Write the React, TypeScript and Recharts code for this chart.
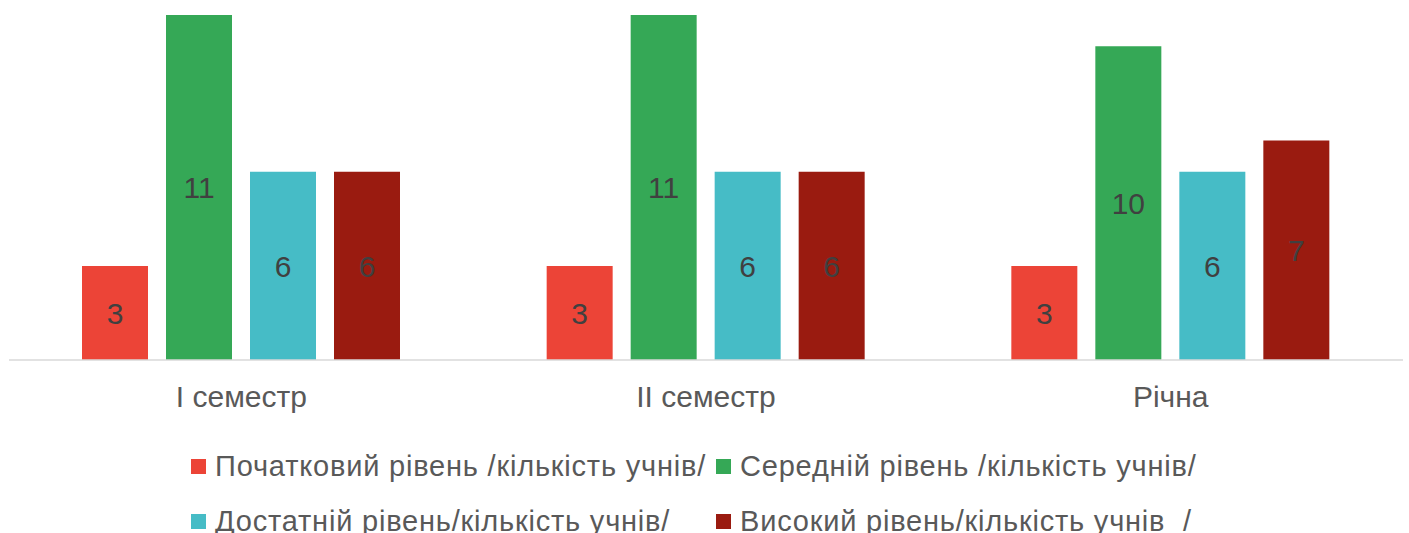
import React from 'react';
import { BarChart, Bar, XAxis, YAxis, Legend, LabelList } from 'recharts';

const categories = ['І семестр', 'ІІ семестр', 'Річна'];
const initialLevel = [3, 3, 3];
const middleLevel = [11, 11, 10];
const sufficientLevel = [6, 6, 6];
const highLevel = [6, 6, 7];

const seriesNames = [
  'Початковий рівень /кількість учнів/',
  'Середній рівень /кількість учнів/',
  'Достатній рівень/кількість учнів/',
  'Високий рівень/кількість учнів  /',
];
const seriesColors = ['#EC4437', '#35A856', '#46BCC6', '#9A1B10'];

const data = categories.map((name, i) => ({
  name,
  initial: initialLevel[i],
  middle: middleLevel[i],
  sufficient: sufficientLevel[i],
  high: highLevel[i],
}));

const keys = ['initial', 'middle', 'sufficient', 'high'];
const font = '"Liberation Sans", Arial, sans-serif';

const GridLegend = (props: any) => {
  const items = [...(props.payload || [])].sort(
    (a: any, b: any) => seriesNames.indexOf(a.value) - seriesNames.indexOf(b.value)
  );
  return (
    <div
      style={{
        height: 113,
        boxSizing: 'border-box',
        paddingTop: 19,
        paddingLeft: 191,
        display: 'grid',
        gridTemplateColumns: '525px 525px',
        gridAutoRows: '55px',
        fontFamily: font,
        fontSize: 29,
        letterSpacing: 0.8,
        color: '#595959',
      }}
    >
      {items.map((item: any) => (
        <div key={item.value} style={{ display: 'flex', alignItems: 'center', whiteSpace: 'pre' }}>
          <span style={{ width: 15, height: 15, background: item.color, marginRight: 9, flex: 'none' }} />
          <span>{item.value}</span>
        </div>
      ))}
    </div>
  );
};

export default function App() {
  return (
    <div style={{ width: 1409, height: 533, background: '#fff' }}>
      <style>{'body{margin:0}'}</style>
      <BarChart
        width={1409}
        height={533}
        data={data}
        margin={{ top: 15, right: 6, bottom: 0, left: 9 }}
        barSize={66}
        barGap={18}
      >
        <XAxis
          dataKey="name"
          axisLine={{ stroke: '#D9D9D9', strokeWidth: 1.5 }}
          tickLine={false}
          tickMargin={20}
          height={60}
          tick={{ fill: '#595959', fontSize: 30, fontFamily: font }}
        />
        <YAxis hide domain={[0, 11]} />
        <Legend verticalAlign="bottom" content={<GridLegend />} wrapperStyle={{ left: 0, width: 1409 }} />
        {keys.map((k, i) => (
          <Bar key={k} dataKey={k} name={seriesNames[i]} fill={seriesColors[i]} isAnimationActive={false}>
            <LabelList
              dataKey={k}
              position="center"
              fill="#404040"
              fontSize={30}
              fontFamily={font}
            />
          </Bar>
        ))}
      </BarChart>
    </div>
  );
}
